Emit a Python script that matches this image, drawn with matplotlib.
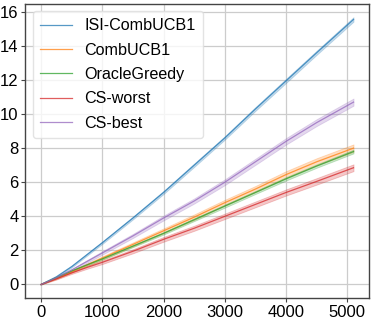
import numpy as np
import matplotlib.pyplot as plt

plt.rcParams['font.family'] = ['Liberation Sans', 'DejaVu Sans']

# checkpoints (rounds) and cumulative regret
steps = [0, 250, 500, 750, 1000, 1500, 2000, 2500, 3000, 3500, 4000, 4500, 5100]

isi_comb = [0.0, 0.45, 1.05, 1.75, 2.45, 3.9, 5.4, 7.0, 8.6, 10.3, 11.95, 13.6, 15.55]
comb = [0.0, 0.35, 0.75, 1.15, 1.55, 2.35, 3.15, 3.95, 4.8, 5.6, 6.45, 7.2, 8.0]
oracle = [0.0, 0.4, 0.8, 1.15, 1.5, 2.25, 3.0, 3.8, 4.6, 5.4, 6.2, 6.95, 7.8]
cs_worst = [0.0, 0.33, 0.68, 1.0, 1.3, 1.95, 2.65, 3.3, 4.0, 4.7, 5.4, 6.05, 6.85]
cs_best = [0.0, 0.4, 0.85, 1.35, 1.85, 2.85, 3.9, 4.9, 6.0, 7.2, 8.4, 9.5, 10.7]

# half-width of the shaded band at each checkpoint
band_isi = [0.0, 0.03, 0.05, 0.06, 0.07, 0.08, 0.09, 0.1, 0.1, 0.11, 0.12, 0.12, 0.13]
band_comb = [0.0, 0.04, 0.06, 0.08, 0.1, 0.12, 0.14, 0.16, 0.17, 0.18, 0.2, 0.21, 0.22]
band_oracle = [0.0, 0.02, 0.03, 0.04, 0.05, 0.06, 0.07, 0.08, 0.09, 0.09, 0.1, 0.1, 0.11]
band_worst = [0.0, 0.04, 0.06, 0.08, 0.1, 0.12, 0.14, 0.15, 0.16, 0.17, 0.18, 0.19, 0.2]
band_best = [0.0, 0.04, 0.06, 0.08, 0.1, 0.12, 0.14, 0.15, 0.17, 0.18, 0.19, 0.2, 0.21]

series = [
    ('ISI-CombUCB1', isi_comb, band_isi, 'tab:blue'),
    ('CombUCB1', comb, band_comb, 'tab:orange'),
    ('OracleGreedy', oracle, band_oracle, 'tab:green'),
    ('CS-worst', cs_worst, band_worst, 'tab:red'),
    ('CS-best', cs_best, band_best, 'tab:purple'),
]

fig, ax = plt.subplots(figsize=(3.74, 3.22), dpi=100)
x = np.array(steps)
for name, vals, band, col in series:
    v = np.array(vals)
    b = np.array(band)
    ax.plot(x, v, color=col, lw=0.9, alpha=0.75, label=name)
    ax.fill_between(x, v - b, v + b, color=col, alpha=0.25, lw=0.6)

ax.set_xticks([0, 1000, 2000, 3000, 4000, 5000])
ax.set_yticks([0, 2, 4, 6, 8, 10, 12, 14, 16])
ax.tick_params(labelsize=12, length=3, width=0.8, color='#444444', pad=2)
ax.grid(True, color='#cccccc', lw=0.9)
ax.set_axisbelow(True)
for s in ax.spines.values():
    s.set_color('#444444')
    s.set_linewidth(1.0)

leg = ax.legend(loc='upper left', fontsize=11.6, frameon=True, handlelength=2.0,
                labelspacing=0.58, borderpad=0.45, handletextpad=0.75,
                borderaxespad=0.45)
leg.get_frame().set_edgecolor('#dddddd')

fig.subplots_adjust(left=0.068, right=0.987, top=0.988, bottom=0.075)
fig.savefig('out.png', dpi=100)
